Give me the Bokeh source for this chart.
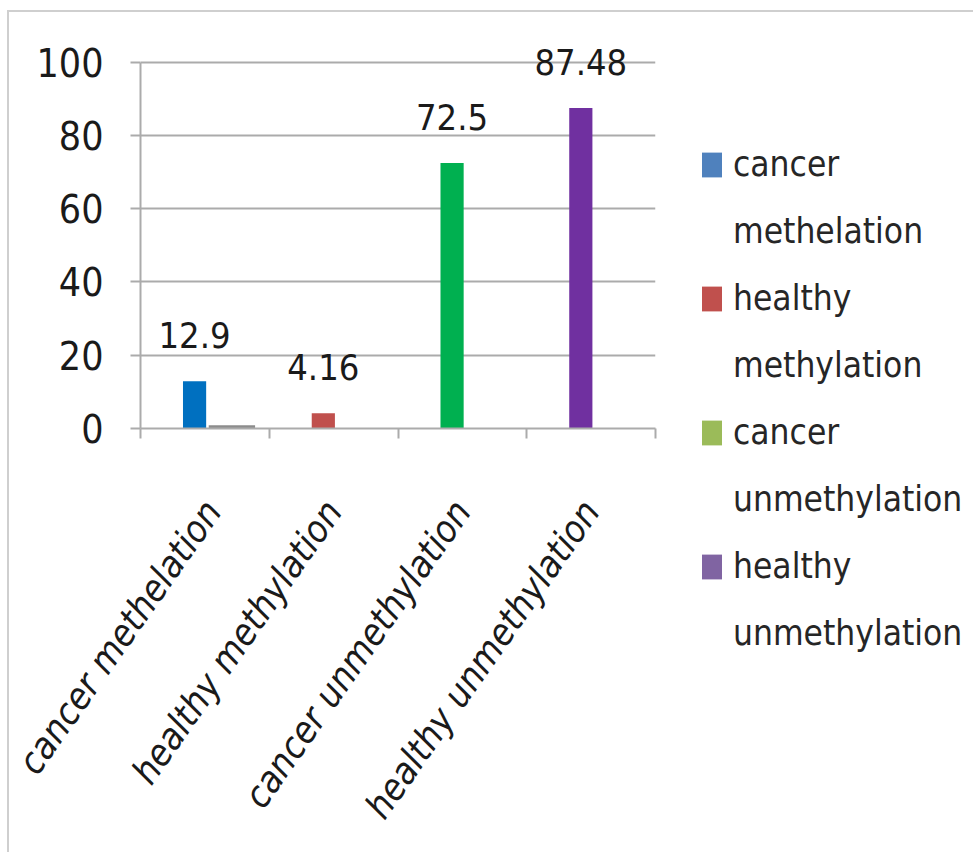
import math
from bokeh.plotting import figure
from bokeh.models import Range1d, FixedTicker, ColumnDataSource, LabelSet, Legend, LegendItem
from bokeh.core.properties import value
from bokeh.embed import file_html
from bokeh.resources import INLINE

# ---- data ----
categories = ["cancer methelation", "healthy methylation",
              "cancer unmethylation", "healthy unmethylation"]
values = [12.9, 4.16, 72.5, 87.48]
value_labels = ["12.9", "4.16", "72.5", "87.48"]
bar_colors = ["#0070C0", "#C0504D", "#00B050", "#7030A0"]
legend_lines = [("cancer", "methelation"), ("healthy", "methylation"),
                ("cancer", "unmethylation"), ("healthy", "unmethylation")]
legend_colors = ["#4F81BD", "#C0504D", "#9BBB59", "#8064A2"]
stray_values = [0.9]          # thin grey sliver next to the first bar
y_ticks = [0, 20, 40, 60, 80, 100]

FONT = "DejaVu Sans Condensed"
GRAY = "#ababab"

n = len(categories)
centers = [i + 0.5 for i in range(n)]
bar_x = [c - 0.08 for c in centers]

src = ColumnDataSource(dict(x=bar_x, top=values, color=bar_colors, label=value_labels))

p = figure(frame_width=515, frame_height=403, x_range=Range1d(0, n), y_range=Range1d(0, 110),
           output_backend="svg", toolbar_location=None, title=None,
           min_border_left=131, min_border_right=318, min_border_top=13,
           min_border_bottom=424)
p.styles = {"margin-left": "7px", "margin-top": "10px",
            "border-top": "2px solid #cfcfcf", "border-left": "2px solid #cfcfcf"}
p.outline_line_color = None
p.background_fill_color = "white"
p.border_fill_color = "white"

p.vbar(x="x", top="top", width=0.18, fill_color="color", line_color=None, source=src)
p.quad(left=[centers[0] + 0.03], right=[centers[0] + 0.39], bottom=[0], top=stray_values,
       fill_color="#8c8c8c", line_color=None)

labels = LabelSet(x="x", y="top", text="label", source=src, y_offset=33,
                  text_align="center", text_baseline="alphabetic",
                  text_font=value(FONT), text_font_size="36px", text_color="#1a1a1a")
p.add_layout(labels)

# x axis: labels at category centres, tick marks between categories
p.xaxis.ticker = FixedTicker(ticks=centers, minor_ticks=list(range(n + 1)))
p.xaxis.major_label_overrides = {c: cat for c, cat in zip(centers, categories)}
p.xaxis.major_tick_line_color = None
p.xaxis.major_tick_out = 0
p.xaxis.major_tick_in = 0
p.xaxis.minor_tick_out = 10
p.xaxis.minor_tick_in = 0
p.xaxis.minor_tick_line_color = GRAY
p.xaxis.minor_tick_line_width = 2
p.xaxis.major_label_orientation = math.radians(55)
p.xaxis.major_label_standoff = 66
p.xaxis.major_label_text_font = FONT
p.xaxis.major_label_text_font_style = "italic"
p.xaxis.major_label_text_font_size = "37px"
p.xaxis.major_label_text_color = "#1a1a1a"
p.xaxis.axis_line_color = GRAY
p.xaxis.axis_line_width = 2

# y axis
p.yaxis.ticker = FixedTicker(ticks=y_ticks)
p.yaxis.bounds = (0, 100)
p.yaxis.major_tick_out = 10
p.yaxis.major_tick_in = 0
p.yaxis.minor_tick_line_color = None
p.yaxis.major_tick_line_color = GRAY
p.yaxis.major_tick_line_width = 2
p.yaxis.axis_line_color = GRAY
p.yaxis.axis_line_width = 2
p.yaxis.major_label_standoff = 27
p.yaxis.major_label_text_font = FONT
p.yaxis.major_label_text_font_size = "39px"
p.yaxis.major_label_text_color = "#1a1a1a"

p.xgrid.visible = False
p.ygrid.grid_line_color = GRAY
p.ygrid.grid_line_width = 2

# legend (series colours); zero-size swatch renderers carry the colours,
# each entry's text is shown on two lines
blank = p.quad(left=[0], right=[0], top=[0], bottom=[0], fill_alpha=0, line_alpha=0)
items = []
for (line1, line2), col in zip(legend_lines, legend_colors):
    r = p.quad(left=[0], right=[0], top=[0], bottom=[0], fill_color=col, line_color=None)
    items.append(LegendItem(label=line1, renderers=[r]))
    items.append(LegendItem(label=line2, renderers=[blank]))
legend = Legend(items=items, location=(44, -225), glyph_width=25, glyph_height=31,
                label_standoff=9, spacing=27, padding=0, margin=0,
                label_text_font=FONT, label_text_font_size="35px",
                label_text_color="#262626",
                border_line_color=None, background_fill_alpha=0)
p.add_layout(legend, "right")

open("out.html", "w").write(file_html(p, INLINE))
